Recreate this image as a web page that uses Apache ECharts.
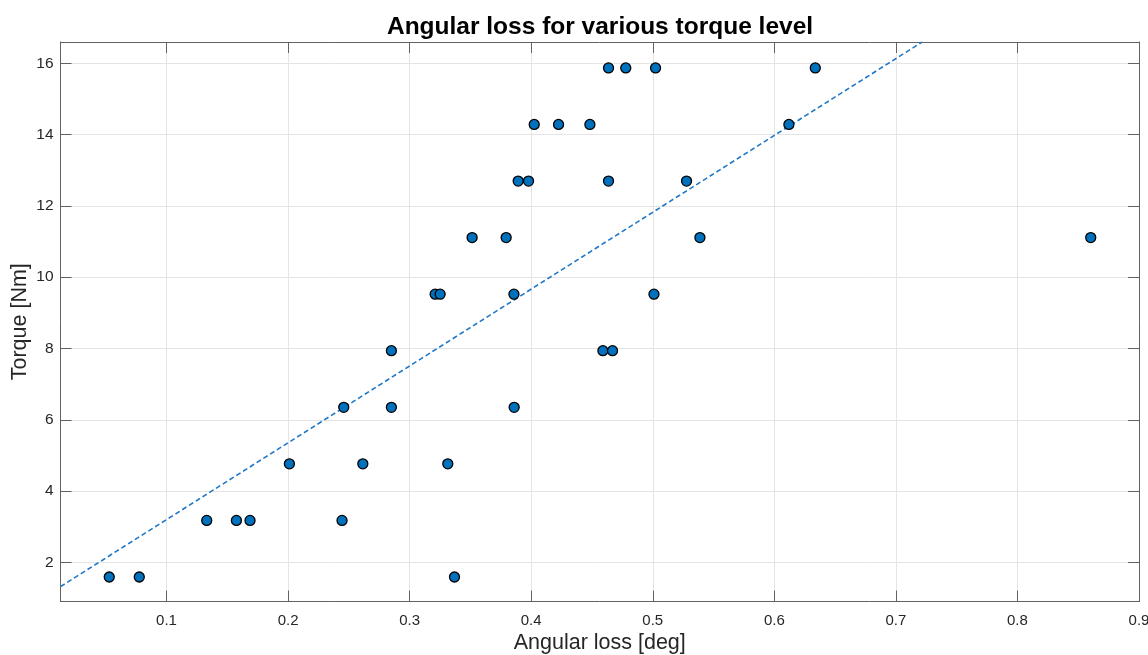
<!DOCTYPE html>
<html>
<head>
<meta charset="utf-8">
<script src="https://cdn.jsdelivr.net/npm/echarts@6/dist/echarts.min.js"></script>
<style>
  html, body { margin: 0; padding: 0; background: #fff; }
  #chart { width: 1148px; height: 655px; }
</style>
</head>
<body>
<div id="chart"></div>
<script>
// measured points: angular loss [deg] vs torque [Nm]
const angularLoss = [
  0.0529, 0.0776, 0.3369,
  0.1331, 0.1575, 0.1687, 0.2444,
  0.2011, 0.2615, 0.3314,
  0.2458, 0.2850, 0.3860,
  0.2850, 0.4590, 0.4669,
  0.3210, 0.3251, 0.3858, 0.5010,
  0.3514, 0.3794, 0.5388, 0.8603,
  0.3893, 0.3978, 0.4636, 0.5278,
  0.4025, 0.4225, 0.4483, 0.6120,
  0.4636, 0.4778, 0.5023, 0.6337
];
const torque = [
  1.587, 1.587, 1.587,
  3.175, 3.175, 3.175, 3.175,
  4.762, 4.762, 4.762,
  6.349, 6.349, 6.349,
  7.937, 7.937, 7.937,
  9.524, 9.524, 9.524, 9.524,
  11.111, 11.111, 11.111, 11.111,
  12.698, 12.698, 12.698, 12.698,
  14.286, 14.286, 14.286, 14.286,
  15.873, 15.873, 15.873, 15.873
];

// linear fit line, endpoints where it meets the axes box
const fitX = [0.0128, 0.7216];
const fitY = [1.317, 16.6];

const xTicks = [0.1, 0.2, 0.3, 0.4, 0.5, 0.6, 0.7, 0.8, 0.9];
const yTicks = [2, 4, 6, 8, 10, 12, 14, 16];

const xRange = [0.0128, 0.9];
const yRange = [0.9, 16.6];

const points = angularLoss.map((x, i) => [x, torque[i]]);
const fitLine = fitX.map((x, i) => [x, fitY[i]]);

const FONT = "'Liberation Sans', Arial, Helvetica, sans-serif";
const AXIS_COLOR = '#626262';
const GRID_COLOR = '#e4e4e4';

const chart = echarts.init(document.getElementById('chart'), null, { renderer: 'canvas' });

function boxAxis(pos, range, ticks) {
  return {
    type: 'value',
    position: pos,
    min: range[0],
    max: range[1],
    axisLine: { show: true, onZero: false, lineStyle: { color: AXIS_COLOR, width: 1 } },
    axisTick: { show: true, inside: true, length: 11, customValues: ticks,
      lineStyle: { color: AXIS_COLOR, width: 1 } },
    axisLabel: { show: false },
    splitLine: { show: false }
  };
}

chart.setOption({
  backgroundColor: '#ffffff',
  animation: false,
  title: {
    text: 'Angular loss for various torque level',
    left: 600,
    top: 15,
    padding: 0,
    textAlign: 'center',
    textStyle: { fontFamily: FONT, fontSize: 24.5, fontWeight: 'bold', color: '#000' }
  },
  grid: { left: 60.5, right: 9, top: 42, bottom: 53.5, containLabel: false, outerBoundsMode: 'none' },
  xAxis: [
    {
      type: 'value',
      position: 'bottom',
      min: xRange[0],
      max: xRange[1],
      name: 'Angular loss [deg]',
      nameLocation: 'middle',
      nameGap: 31,
      nameMoveOverlap: false,
      nameTextStyle: { fontFamily: FONT, fontSize: 21.5, color: '#262626' },
      axisLine: { show: true, onZero: false, lineStyle: { color: AXIS_COLOR, width: 1 } },
      axisTick: { show: true, inside: true, length: 11, customValues: xTicks,
        lineStyle: { color: AXIS_COLOR, width: 1 } },
      axisLabel: { show: true, customValues: xTicks, margin: 12,
        formatter: v => (+v).toFixed(1),
        fontFamily: FONT, fontSize: 15, color: '#262626' },
      splitLine: { show: true, lineStyle: { color: GRID_COLOR, width: 1 } }
    },
    boxAxis('top', xRange, xTicks)
  ],
  yAxis: [
    {
      type: 'value',
      position: 'left',
      min: yRange[0],
      max: yRange[1],
      name: 'Torque [Nm]',
      nameLocation: 'middle',
      nameGap: 29,
      nameMoveOverlap: false,
      nameTextStyle: { fontFamily: FONT, fontSize: 21.5, color: '#262626' },
      axisLine: { show: true, onZero: false, lineStyle: { color: AXIS_COLOR, width: 1 } },
      axisTick: { show: true, inside: true, length: 11, customValues: yTicks,
        lineStyle: { color: AXIS_COLOR, width: 1 } },
      axisLabel: { show: true, customValues: yTicks, margin: 7,
        formatter: v => String(Math.round(v)),
        fontFamily: FONT, fontSize: 15.5, color: '#262626' },
      splitLine: { show: true, lineStyle: { color: GRID_COLOR, width: 1 } }
    },
    boxAxis('right', yRange, yTicks)
  ],
  series: [
    {
      type: 'line',
      data: fitLine,
      xAxisIndex: 0,
      yAxisIndex: 0,
      showSymbol: false,
      symbol: 'none',
      clip: true,
      lineStyle: { color: '#1f78c8', width: 1.6, type: [5, 3] },
      z: 2
    },
    {
      type: 'scatter',
      data: points,
      xAxisIndex: 0,
      yAxisIndex: 0,
      symbol: 'circle',
      symbolSize: 10,
      itemStyle: { color: '#0072BD', borderColor: '#000000', borderWidth: 1.3, opacity: 1 },
      z: 3
    }
  ]
});
</script>
</body>
</html>
